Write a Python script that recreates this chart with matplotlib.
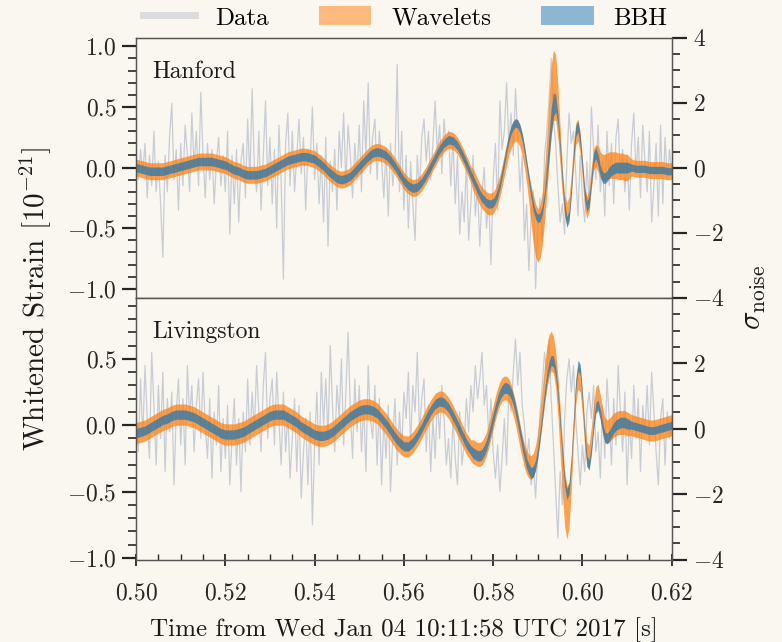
import numpy as np
import matplotlib
matplotlib.use("Agg")
import matplotlib.pyplot as plt
from matplotlib.lines import Line2D
from matplotlib.patches import Patch
from matplotlib.ticker import MultipleLocator

# time grids (s after 10:11:58)
t_data = np.linspace(0.500, 0.620, 241)
t_wave = np.concatenate([np.linspace(0.500, 0.575, 76),
                         np.linspace(0.5755, 0.610, 70),
                         np.linspace(0.611, 0.620, 10)])

# ---------------- Hanford ----------------
h_data = [0.05, -0.10, 0.15, -0.05, 0.20, -0.25, 0.10, -0.15, 0.30, -0.20, 0.05, -0.30, -0.74, 0.10, -0.20, 0.25, 0.53, -0.10, 0.15, -0.35,
          0.20, -0.15, 0.35, 0.10, -0.20, 0.45, 0.00, 0.30, -0.15, 0.62, 0.10, -0.25, 0.20, -0.10, 0.15, -0.30, 0.05, 0.25, -0.15, 0.10,
          -0.20, 0.30, -0.55, 0.10, -0.30, 0.15, -0.45, 0.05, 0.20, -0.25, 0.40, -0.10, 0.65, 0.00, -0.20, 0.30, -0.35, 0.10, 0.55, -0.15,
          0.25, -0.30, 0.15, -0.50, 0.35, -0.10, -0.92, 0.20, 0.45, -0.15, 0.30, -0.20, 0.10, 0.40, -0.05, 0.25, -0.35, 0.15, 0.05, 0.50,
          -0.10, 0.20, -0.30, 0.10, -0.45, 0.25, -0.65, 0.05, -0.20, 0.15, -0.35, 0.30, 0.00, 0.45, -0.15, 0.35, 0.10, -0.25, 0.20, -0.10,
          0.35, -0.20, 0.55, 0.10, 0.70, -0.05, 0.25, 0.40, -0.10, 0.30, 0.05, -0.25, 0.15, -0.40, 0.20, -0.15, 0.05, 0.85, -0.20, 0.30,
          -0.35, 0.10, -0.50, 0.05, -0.30, -0.60, 0.10, -0.20, 0.25, 0.40, 0.05, 0.30, -0.10, 0.20, 0.55, 0.10, 0.35, -0.05, 0.40, 0.15,
          0.30, -0.15, 0.25, -0.30, 0.10, -0.55, -0.20, -0.45, 0.05, -0.60, -0.30, 0.10, -0.40, -0.15, -0.65, -0.20, 0.00, -0.50, -0.25, -0.80,
          -0.10, 0.20, -0.35, 0.55, 0.15, 0.30, 0.70, 0.20, 0.45, 0.10, 0.65, 0.25, -0.20, 0.10, -0.60, -0.30, -0.85, -0.40, -0.20, -1.00,
          -0.50, -0.25, -0.60, 0.10, 0.30, 0.55, 0.90, 0.40, 0.20, -0.15, -0.45, -0.30, -0.55, 0.05, 0.45, 0.20, 0.30, -0.05, -0.40, 0.10,
          -0.25, -0.45, 0.05, -0.30, 0.50, 0.15, -0.10, 0.35, -0.20, 0.05, -0.40, 0.30, -0.15, 0.20, -0.30, 0.25, 0.40, -0.10, 0.15, -0.20,
          0.10, -0.35, 0.20, 0.45, -0.05, 0.25, -0.25, 0.35, 0.05, -0.20, 0.30, -0.45, -0.15, 0.20, -0.40, 0.35, -0.30, 0.25, -0.10, 0.15,
          -0.05]

h_bbh = [0.00, -0.01, -0.02, -0.03, -0.03, -0.03, -0.03, -0.02, -0.01, 0.00,
         0.01, 0.02, 0.03, 0.04, 0.05, 0.05, 0.05, 0.05, 0.04, 0.03,
         0.02, 0.00, -0.02, -0.03, -0.05, -0.06, -0.06, -0.06, -0.05, -0.04,
         -0.02, 0.00, 0.02, 0.04, 0.06, 0.07, 0.08, 0.09, 0.09, 0.08,
         0.07, 0.04, 0.01, -0.03, -0.06, -0.09, -0.10, -0.09, -0.07, -0.03,
         0.01, 0.05, 0.09, 0.12, 0.13, 0.12, 0.10, 0.06, 0.01, -0.05,
         -0.11, -0.15, -0.17, -0.16, -0.12, -0.06, 0.01, 0.08, 0.15, 0.20,
         0.23, 0.22, 0.18, 0.11, 0.03, -0.06,
         -0.10, -0.14, -0.18, -0.22, -0.25, -0.27, -0.29, -0.30, -0.30, -0.29,
         -0.26, -0.21, -0.14, -0.05, 0.05, 0.15, 0.24, 0.31, 0.35, 0.37,
         0.36, 0.32, 0.25, 0.15, 0.03, -0.10, -0.22, -0.32, -0.39, -0.42,
         -0.41, -0.35, -0.23, -0.05, 0.17, 0.38, 0.52, 0.53, 0.40, 0.17,
         -0.10, -0.33, -0.45, -0.40, -0.18, 0.10, 0.30, 0.34, 0.22, 0.00,
         -0.22, -0.32, -0.28, -0.10, 0.08, 0.12, 0.06, -0.03, -0.08, -0.09,
         -0.07, -0.04, -0.02, -0.01, 0.00, 0.00, 0.00, 0.00, 0.00, 0.00,
         0.00, -0.01, -0.01, -0.01, -0.02, -0.02, -0.02, -0.02, -0.03, -0.03]
h_bbh_w = [0.035] * 76 + [0.035] * 33 + [0.07, 0.10, 0.11, 0.10, 0.07] + [0.045] * 32 + [0.03] * 10

h_wav = h_bbh[:76] + [
    -0.10, -0.14, -0.18, -0.22, -0.25, -0.27, -0.29, -0.30, -0.30, -0.29,
    -0.26, -0.21, -0.15, -0.07, 0.02, 0.11, 0.19, 0.25, 0.29, 0.31,
    0.30, 0.26, 0.19, 0.09, -0.04, -0.17, -0.31, -0.43, -0.52, -0.56,
    -0.53, -0.42, -0.23, 0.02, 0.30, 0.55, 0.68, 0.66, 0.46, 0.17,
    -0.12, -0.32, -0.38, -0.33, -0.14, 0.10, 0.28, 0.31, 0.20, -0.02,
    -0.25, -0.33, -0.27, -0.08, 0.07, 0.10, 0.07, 0.02, 0.00, 0.00,
    0.01, 0.02, 0.02, 0.02, 0.02, 0.01, 0.01, 0.01, 0.00, 0.00] + h_bbh[146:]
h_wav_w = ([0.07] * 76 + [0.09] * 25
           + [0.12, 0.16, 0.20, 0.22, 0.22, 0.22, 0.22, 0.22, 0.24, 0.27, 0.29, 0.29, 0.27, 0.22, 0.16, 0.11]
           + [0.09] * 15 + [0.11] * 14 + [0.07] * 10)

# ---------------- Livingston ----------------
l_data = [0.10, -0.20, 0.35, -0.10, 0.45, 0.05, -0.25, 0.55, 0.15, -0.30, 0.30, -0.10, 0.40, -0.35, 0.20, -0.05, 0.25, -0.45, 0.10, 0.35,
          -0.15, 0.20, -0.30, 0.45, 0.05, 0.30, -0.20, 0.15, 0.35, -0.10, 0.40, 0.00, -0.25, 0.20, -0.40, 0.10, -0.15, 0.30, -0.35, 0.05,
          -0.25, 0.15, -0.45, -0.10, 0.20, -0.30, 0.05, -0.50, 0.10, -0.20, 0.35, -0.15, 0.25, -0.05, 0.45, 0.10, -0.20, 0.30, 0.55, -0.10,
          0.20, 0.35, -0.15, 0.40, 0.05, -0.30, 0.25, -0.20, 0.10, -0.40, -0.10, 0.20, -0.35, 0.15, -0.55, -0.20, 0.05, -0.45, 0.10, -0.75,
          -0.15, 0.25, -0.30, 0.40, 0.00, 0.35, -0.10, 0.60, 0.15, -0.20, 0.30, 0.05, 0.50, -0.15, 0.25, 0.70, 0.10, -0.25, 0.35, -0.05,
          0.30, -0.20, 0.15, -0.35, 0.45, 0.05, -0.10, 0.30, -0.30, 0.20, -0.45, 0.05, -0.25, 0.15, -0.50, -0.10, 0.20, -0.30, 0.10, -0.20,
          0.25, 0.05, 0.40, -0.15, 0.30, 0.10, 0.55, -0.05, 0.20, 0.35, -0.20, 0.15, -0.35, 0.05, -0.25, 0.20, -0.10, 0.30, 0.05, -0.30,
          -0.10, -0.40, 0.05, -0.25, -0.45, 0.10, -0.30, -0.15, 0.20, -0.05, 0.30, 0.10, 0.45, 0.20, 0.35, 0.55, 0.15, 0.30, -0.10, 0.20,
          -0.20, -0.40, -0.15, -0.50, -0.25, 0.05, -0.30, 0.25, 0.10, 0.40, 0.65, 0.30, 0.55, 0.15, 0.00, -0.25, -0.10, -0.45, -0.30, -0.55,
          -0.20, 0.10, 0.30, 0.55, 0.40, 0.65, 0.20, -0.15, -0.50, -0.85, -0.35, -0.60, 0.05, 0.35, 0.50, 0.25, 0.45, 0.05, -0.20, -0.45,
          -0.15, -0.35, 0.10, 0.25, 0.05, 0.30, -0.20, -0.05, -0.40, 0.15, -0.25, 0.35, 0.05, -0.30, 0.20, -0.15, 0.45, 0.10, -0.20, 0.25,
          -0.45, 0.05, -0.25, 0.30, -0.10, 0.20, -0.35, 0.15, -0.05, 0.30, -0.15, 0.40, 0.10, -0.20, -0.45, 0.05, 0.20, -0.30, 0.10, -0.10,
          0.05]

l_bbh = [-0.06, -0.05, -0.04, -0.02, 0.00, 0.02, 0.04, 0.05, 0.07, 0.08,
         0.08, 0.08, 0.07, 0.06, 0.04, 0.02, 0.00, -0.02, -0.04, -0.06,
         -0.07, -0.07, -0.07, -0.06, -0.05, -0.03, -0.01, 0.01, 0.03, 0.05,
         0.07, 0.08, 0.08, 0.08, 0.06, 0.04, 0.02, -0.01, -0.03, -0.05,
         -0.07, -0.08, -0.08, -0.07, -0.05, -0.02, 0.01, 0.04, 0.07, 0.09,
         0.11, 0.12, 0.12, 0.11, 0.09, 0.05, 0.01, -0.04, -0.09, -0.13,
         -0.16, -0.16, -0.13, -0.08, -0.02, 0.05, 0.11, 0.16, 0.18, 0.17,
         0.13, 0.07, 0.00, -0.07, -0.14, -0.19,
         -0.21, -0.22, -0.23, -0.23, -0.22, -0.19, -0.15, -0.09, -0.02, 0.05,
         0.12, 0.18, 0.23, 0.26, 0.28, 0.28, 0.27, 0.24, 0.19, 0.12,
         0.04, -0.05, -0.14, -0.22, -0.29, -0.33, -0.36, -0.35, -0.30, -0.21,
         -0.08, 0.07, 0.22, 0.35, 0.44, 0.49, 0.48, 0.40, 0.24, 0.02,
         -0.22, -0.42, -0.52, -0.48, -0.28, 0.02, 0.30, 0.45, 0.42, 0.20,
         -0.08, -0.27, -0.30, -0.18, 0.00, 0.13, 0.15, 0.08, -0.02, -0.09,
         -0.10, -0.08, -0.05, -0.02, 0.00, 0.01, 0.02, 0.02, 0.02, 0.01,
         0.00, -0.01, -0.02, -0.03, -0.04, -0.04, -0.03, -0.02, -0.01, 0.00]
l_bbh_w = [0.035] * 76 + [0.04] * 70 + [0.03] * 10

l_wav = l_bbh[:76] + [
    -0.20, -0.21, -0.22, -0.22, -0.21, -0.18, -0.14, -0.08, -0.01, 0.06,
    0.13, 0.19, 0.24, 0.27, 0.28, 0.28, 0.26, 0.22, 0.16, 0.09,
    0.01, -0.08, -0.16, -0.23, -0.28, -0.31, -0.32, -0.30, -0.24, -0.14,
    0.00, 0.15, 0.30, 0.43, 0.52, 0.56, 0.53, 0.42, 0.22, -0.04,
    -0.32, -0.55, -0.66, -0.60, -0.35, -0.02, 0.25, 0.36, 0.34, 0.16,
    -0.07, -0.22, -0.24, -0.10, 0.08, 0.20, 0.22, 0.14, 0.04, -0.03,
    -0.05, -0.04, -0.02, 0.00, 0.01, 0.02, 0.02, 0.02, 0.02, 0.01] + l_bbh[146:]
l_wav_w = ([0.08] * 76 + [0.09] * 30
           + [0.11, 0.13, 0.15, 0.16, 0.16, 0.15, 0.14, 0.14, 0.15, 0.18, 0.20, 0.21, 0.20, 0.17, 0.13, 0.10]
           + [0.09] * 24 + [0.08] * 10)

bg = "#faf7f0"
ink = "#262626"
c_data = "#c8ccd4"
c_wav = "#ff7f0e"
c_bbh = "#1f77b4"

plt.rcParams["font.family"] = "serif"
plt.rcParams["font.serif"] = ["cmr10", "DejaVu Serif"]
plt.rcParams["mathtext.fontset"] = "cm"
plt.rcParams["axes.formatter.use_mathtext"] = True
plt.rcParams["axes.unicode_minus"] = True

fig = plt.figure(figsize=(7.82, 6.42), dpi=100, facecolor=bg)

panels = [
    ("Hanford", h_data, h_bbh, h_bbh_w, h_wav, h_wav_w, (-1.075, 1.07), [0.174, 0.536, 0.685, 0.405]),
    ("Livingston", l_data, l_bbh, l_bbh_w, l_wav, l_wav_w, (-1.015, 0.96), [0.174, 0.128, 0.685, 0.408]),
]

for i, (name, dat, bbh, bbh_w, wav, wav_w, ylim, rect) in enumerate(panels):
    ax = fig.add_axes(rect, facecolor=bg)
    bbh = np.array(bbh)
    wav = np.array(wav)
    ax.plot(t_data, dat, color=c_data, lw=0.9, zorder=1)
    ax.fill_between(t_wave, wav - np.array(wav_w), wav + np.array(wav_w),
                    color=c_wav, alpha=0.72, lw=0, zorder=2)
    ax.fill_between(t_wave, bbh - np.array(bbh_w), bbh + np.array(bbh_w),
                    color=c_bbh, alpha=0.72, lw=0, zorder=3)
    ax.set_xlim(0.50, 0.62)
    ax.set_ylim(*ylim)
    ax.xaxis.set_major_locator(MultipleLocator(0.02))
    ax.xaxis.set_minor_locator(MultipleLocator(0.005))
    ax.yaxis.set_major_locator(MultipleLocator(0.5))
    ax.yaxis.set_minor_locator(MultipleLocator(0.1))
    ax.tick_params(axis="y", which="major", direction="out", length=10, width=1.6,
                   colors=ink, labelsize=17, pad=4)
    ax.tick_params(axis="y", which="minor", direction="out", length=6, width=1.2, colors=ink)
    ax.tick_params(axis="x", which="major", direction="inout", length=9, width=1.3,
                   colors=ink, labelsize=17, pad=12)
    ax.tick_params(axis="x", which="minor", direction="in", length=4, width=1.0, colors=ink)
    if i == 0:
        ax.tick_params(axis="x", which="both", bottom=False, labelbottom=False)
    for s in ax.spines.values():
        s.set_color("#555555")
        s.set_linewidth(0.9)
    ax.text(0.03, 0.845, name, transform=ax.transAxes, fontsize=17, color="#1a1a1a")

    ax2 = ax.twinx()
    ax2.set_ylim(-4, 4)
    ax2.yaxis.set_major_locator(MultipleLocator(2))
    ax2.yaxis.set_minor_locator(MultipleLocator(0.5))
    ax2.tick_params(axis="y", which="major", direction="out", length=11, width=1.6,
                    colors=ink, labelsize=17, pad=4)
    ax2.tick_params(axis="y", which="minor", direction="out", length=6, width=1.2, colors=ink)
    if i == 1:
        ax2.set_yticks([-4, -2, 0, 2])
    for s in ax2.spines.values():
        s.set_color("#555555")
        s.set_linewidth(0.9)
    if i == 1:
        ax.set_xlabel("Time from Wed Jan 04 10:11:58 UTC 2017 [s]", fontsize=18,
                      color="#1a1a1a", labelpad=9)

fig.text(0.045, 0.535, r"Whitened Strain [$10^{-21}$]", rotation=90, ha="center",
         va="center", fontsize=21, color="#1a1a1a")
fig.text(0.965, 0.537, r"$\sigma_{\rm noise}$", rotation=90, ha="center",
         va="center", fontsize=22, color="#1a1a1a")

handles = [Line2D([], [], color="#dcdcdc", lw=5),
           Patch(facecolor=c_wav, alpha=0.5, edgecolor="none"),
           Patch(facecolor=c_bbh, alpha=0.5, edgecolor="none")]
fig.legend(handles, ["Data", "Wavelets", "BBH"], loc="center", bbox_to_anchor=(0.518, 0.972),
           ncol=3, frameon=False, fontsize=18, handlelength=2.1, handleheight=0.8,
           handletextpad=0.8, columnspacing=2.0)

fig.savefig("out.png", dpi=100, facecolor=bg)
